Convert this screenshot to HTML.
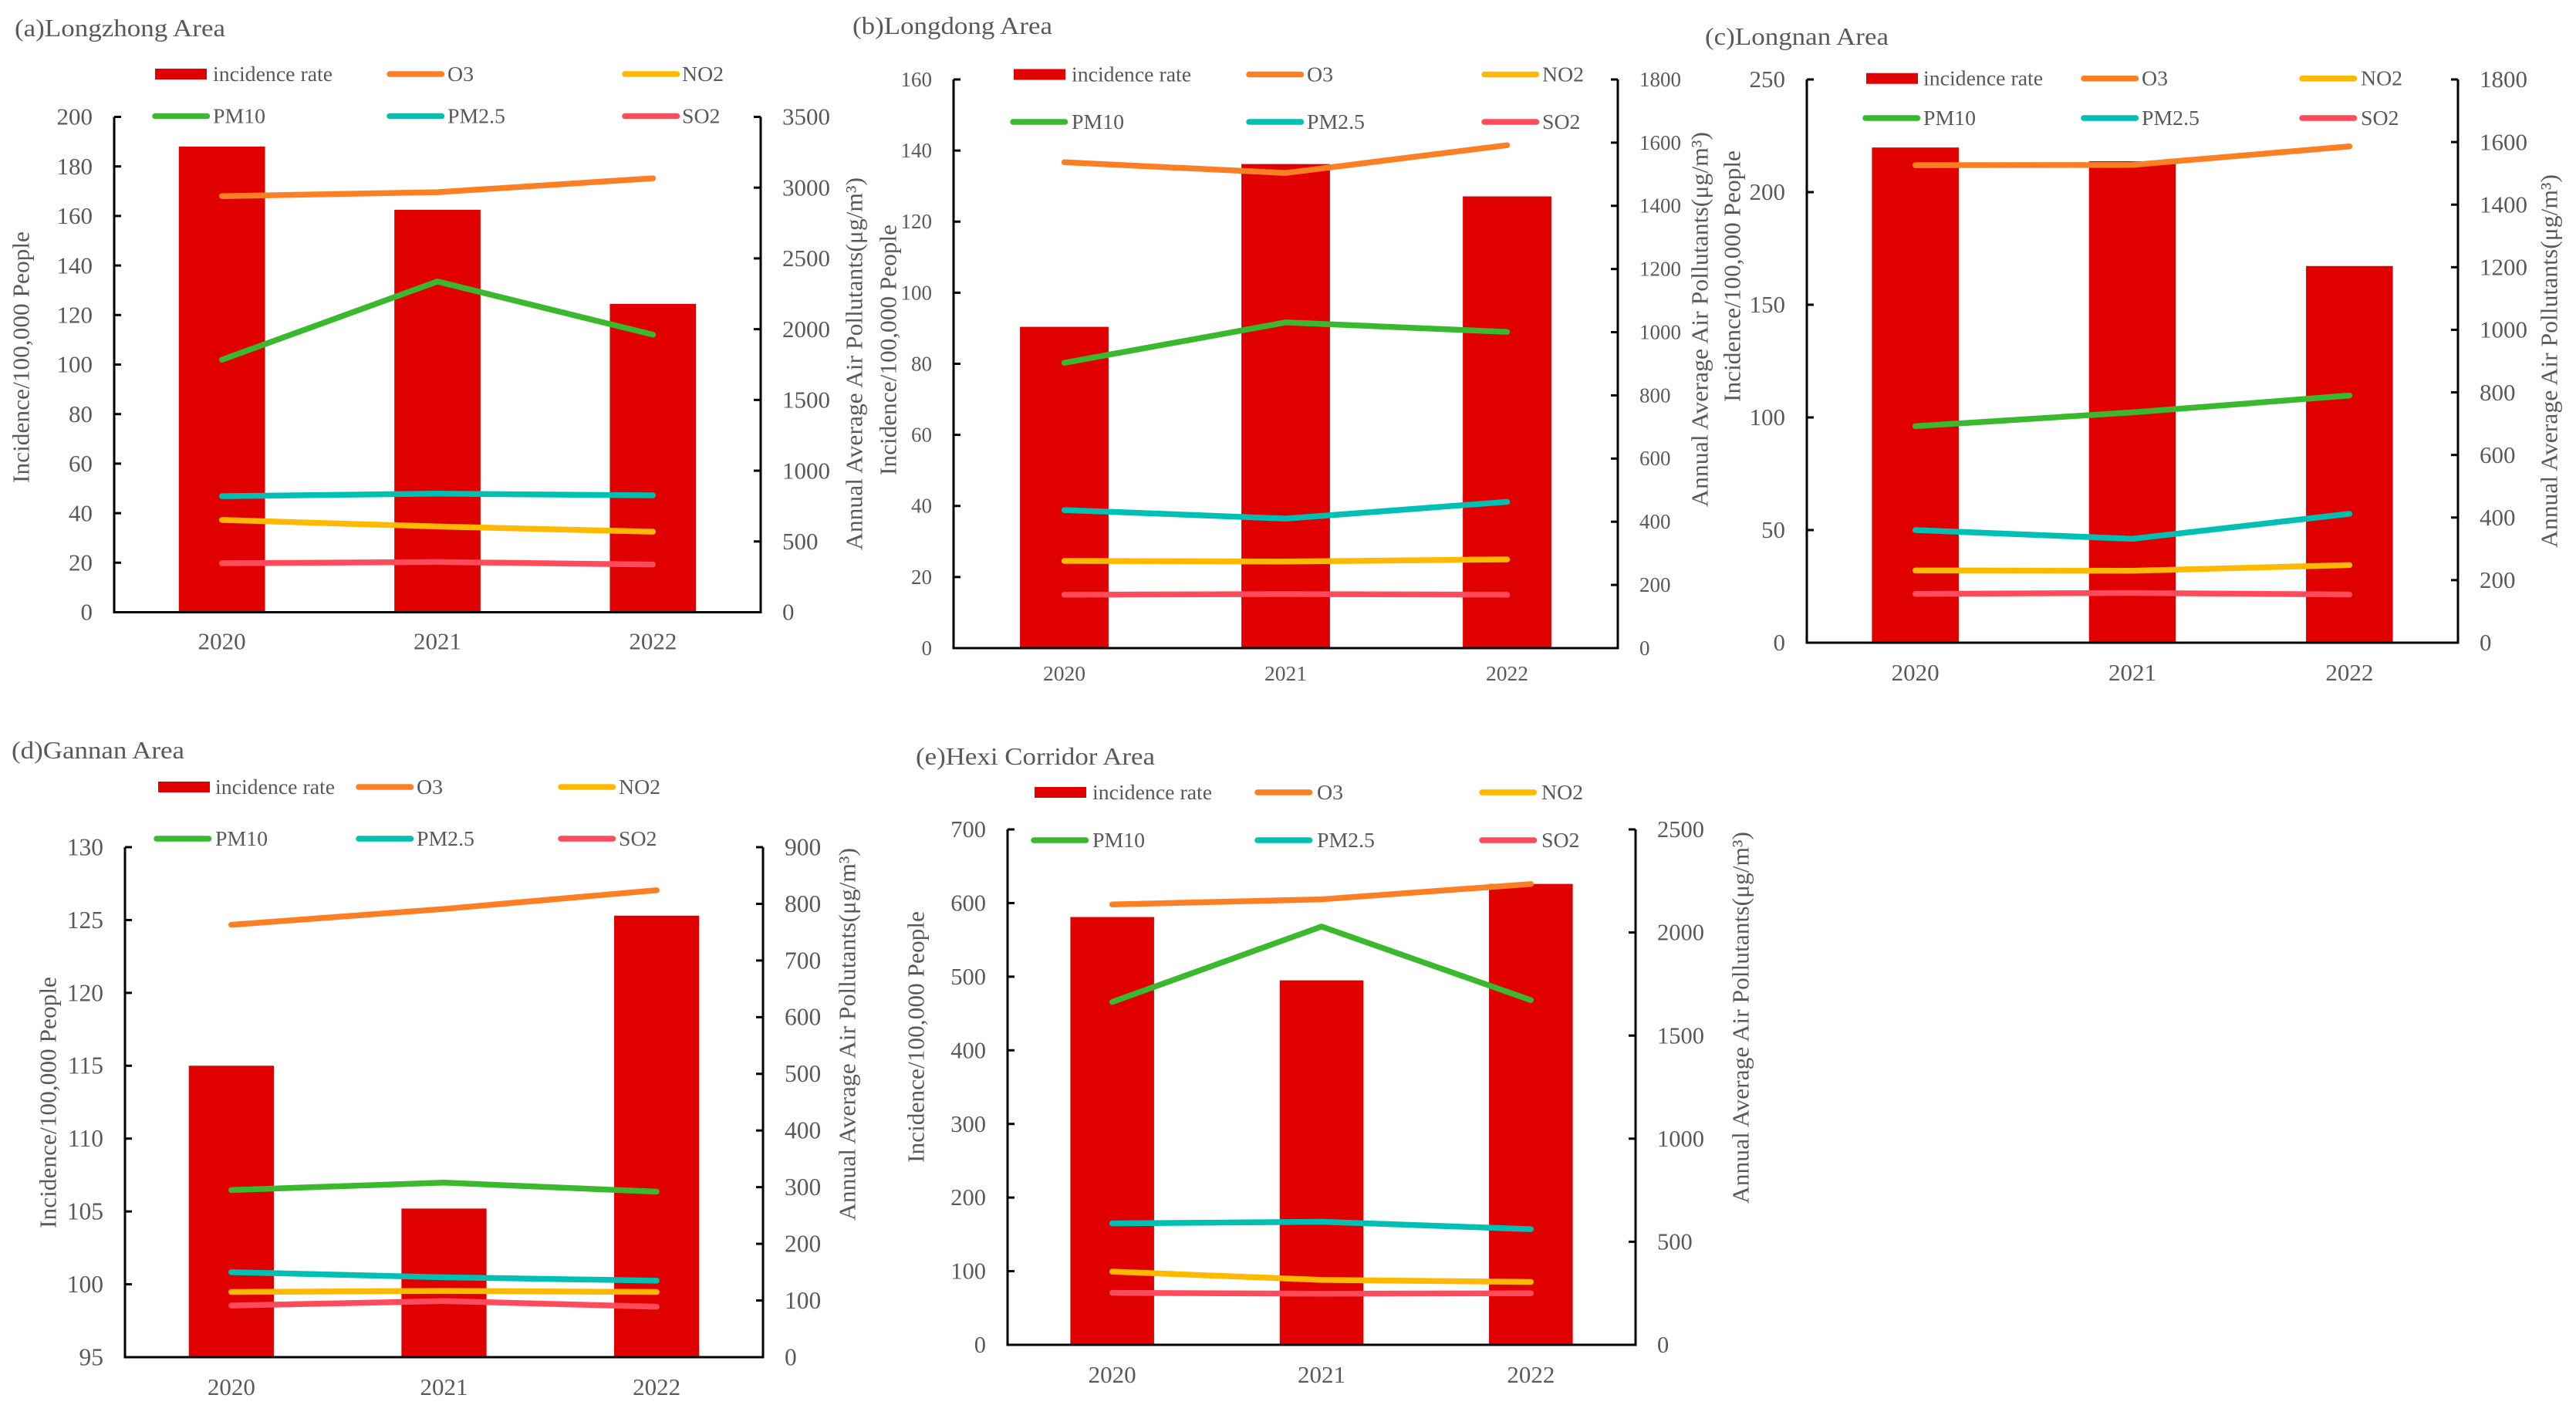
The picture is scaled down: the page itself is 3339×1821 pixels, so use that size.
<!DOCTYPE html>
<html lang="en">
<head>
<meta charset="utf-8">
<title>Incidence and Annual Average Air Pollutants by Area</title>
<style>
html,body{margin:0;padding:0;background:#fff;}
svg{display:block;font-family:"Liberation Serif","DejaVu Serif",serif;}
text{fill:#595959;}
</style>
</head>
<body>
<svg id="figure" xmlns="http://www.w3.org/2000/svg" width="3339" height="1821" viewBox="0 0 3339 1821"></svg>
<script>
const categories = ['2020', '2021', '2022'];

const incidenceA = [188, 162.5, 124.5];
const o3A = [2940, 2968, 3066];
const pm10A = [1784, 2337, 1961];
const pm25A = [820, 838, 826];
const no2A = [652, 606, 569];
const so2A = [346, 355, 337];
const leftTicksA = [0, 20, 40, 60, 80, 100, 120, 140, 160, 180, 200];
const rightTicksA = [0, 500, 1000, 1500, 2000, 2500, 3000, 3500];

const incidenceB = [90.4, 136.2, 127.1];
const o3B = [1538, 1504, 1592];
const pm10B = [903, 1031, 1001];
const pm25B = [437, 410, 463];
const no2B = [276, 274, 281];
const so2B = [169, 171, 169];
const leftTicksB = [0, 20, 40, 60, 80, 100, 120, 140, 160];
const rightTicksB = [0, 200, 400, 600, 800, 1000, 1200, 1400, 1600, 1800];

const incidenceC = [219.8, 213.7, 167.2];
const o3C = [1526, 1527, 1586];
const pm10C = [692, 736, 790];
const pm25C = [360, 332, 412];
const no2C = [231, 230, 248];
const so2C = [156, 159, 154];
const leftTicksC = [0, 50, 100, 150, 200, 250];
const rightTicksC = [0, 200, 400, 600, 800, 1000, 1200, 1400, 1600, 1800];

const incidenceD = [115.0, 105.2, 125.3];
const o3D = [763, 791, 824];
const pm10D = [295, 308, 292];
const pm25D = [150, 141, 135];
const no2D = [115, 117, 115];
const so2D = [91, 99, 89];
const leftTicksD = [95, 100, 105, 110, 115, 120, 125, 130];
const rightTicksD = [0, 100, 200, 300, 400, 500, 600, 700, 800, 900];

const incidenceE = [581, 495, 626];
const o3E = [2136, 2161, 2235];
const pm10E = [1663, 2029, 1672];
const pm25E = [589, 597, 561];
const no2E = [355, 315, 305];
const so2E = [252, 248, 250];
const leftTicksE = [0, 100, 200, 300, 400, 500, 600, 700];
const rightTicksE = [0, 500, 1000, 1500, 2000, 2500];

const leftTitle = 'Incidence/100,000 People';
const rightTitle = 'Annual Average Air Pollutants(μg/m³)';
const barColor = '#E00000';
const seriesStyle = [
  {key: 'o3', label: 'O3', color: '#FD7F23', col: 1, row: 0},
  {key: 'no2', label: 'NO2', color: '#FFB900', col: 2, row: 0},
  {key: 'pm10', label: 'PM10', color: '#3AB82E', col: 0, row: 1},
  {key: 'pm25', label: 'PM2.5', color: '#00BFB3', col: 1, row: 1},
  {key: 'so2', label: 'SO2', color: '#FF4B5C', col: 2, row: 1}
];

const panels = [
  {id: 'a', title: '(a)Longzhong Area', titleX: 19, titleY: 47, titleLen: 273,
   incidence: incidenceA, o3: o3A, pm10: pm10A, pm25: pm25A, no2: no2A, so2: so2A,
   leftTicks: leftTicksA, rightTicks: rightTicksA,
   box: {l: 148, r: 986, t: 151.5, b: 793.5}, font: 31, catFont: 31, catDy: 48,
   leftTitleBox: {x: 27, y: 463, len: 326}, rightTitleBox: {x: 1107, y: 471.5, len: 483},
   legend: {swatchX: 201, lineX: [200, 504, 809], textX: [276, 580, 884], rows: [96, 150.5]}},
  {id: 'b', title: '(b)Longdong Area', titleX: 1105, titleY: 44, titleLen: 259,
   incidence: incidenceB, o3: o3B, pm10: pm10B, pm25: pm25B, no2: no2B, so2: so2B,
   leftTicks: leftTicksB, rightTicks: rightTicksB,
   box: {l: 1236, r: 2097, t: 103, b: 840}, font: 27, catFont: 27.5, catDy: 42,
   leftTitleBox: {x: 1151, y: 453.5, len: 325}, rightTitleBox: {x: 2203, y: 414, len: 486},
   legend: {swatchX: 1314, lineX: [1312, 1618, 1923], textX: [1389, 1694, 1999], rows: [96.5, 158]}},
  {id: 'c', title: '(c)Longnan Area', titleX: 2210, titleY: 58, titleLen: 238,
   incidence: incidenceC, o3: o3C, pm10: pm10C, pm25: pm25C, no2: no2C, so2: so2C,
   leftTicks: leftTicksC, rightTicks: rightTicksC,
   box: {l: 2342, r: 3186, t: 103, b: 833}, font: 31, catFont: 31, catDy: 49,
   leftTitleBox: {x: 2245, y: 358, len: 326}, rightTitleBox: {x: 3304, y: 468, len: 484},
   legend: {swatchX: 2419, lineX: [2417, 2700, 2983], textX: [2493, 2776, 3060], rows: [101.7, 153]}},
  {id: 'd', title: '(d)Gannan Area', titleX: 15, titleY: 983, titleLen: 224,
   incidence: incidenceD, o3: o3D, pm10: pm10D, pm25: pm25D, no2: no2D, so2: so2D,
   leftTicks: leftTicksD, rightTicks: rightTicksD,
   box: {l: 162, r: 989, t: 1098, b: 1759}, font: 31.5, catFont: 31, catDy: 49,
   leftTitleBox: {x: 62, y: 1429, len: 326}, rightTitleBox: {x: 1098, y: 1340.5, len: 483},
   legend: {swatchX: 205, lineX: [202, 464, 726], textX: [279, 540, 802], rows: [1020, 1087]}},
  {id: 'e', title: '(e)Hexi Corridor Area', titleX: 1187, titleY: 991, titleLen: 310,
   incidence: incidenceE, o3: o3E, pm10: pm10E, pm25: pm25E, no2: no2E, so2: so2E,
   leftTicks: leftTicksE, rightTicks: rightTicksE,
   box: {l: 1306, r: 2120, t: 1075, b: 1743}, font: 30.5, catFont: 31, catDy: 49,
   leftTitleBox: {x: 1187, y: 1344, len: 326}, rightTitleBox: {x: 2256, y: 1319, len: 482},
   legend: {swatchX: 1341, lineX: [1339, 1629, 1920], textX: [1416, 1707, 1998], rows: [1027, 1089]}}
];

const NS = 'http://www.w3.org/2000/svg';
const figure = document.getElementById('figure');

function make(parent, tag, attrs, content) {
  const node = document.createElementNS(NS, tag);
  for (const k in attrs) node.setAttribute(k, attrs[k]);
  if (content !== undefined) node.textContent = content;
  parent.appendChild(node);
  return node;
}

function linearScale(domainMin, domainMax, rangeMin, rangeMax) {
  return function (v) {
    return rangeMin + (v - domainMin) / (domainMax - domainMin) * (rangeMax - rangeMin);
  };
}

function drawPanel(p) {
  const g = make(figure, 'g', {});
  
  

  const b = p.box;
  const yLeft = linearScale(p.leftTicks[0], p.leftTicks[p.leftTicks.length - 1], b.b, b.t);
  const yRight = linearScale(p.rightTicks[0], p.rightTicks[p.rightTicks.length - 1], b.b, b.t);
  const band = (b.r - b.l) / categories.length;
  const xCenter = function (i) { return b.l + band * (i + 0.5); };
  const barWidth = band * 0.4;

  const title = make(g, 'text', {x: p.titleX, y: p.titleY, 'font-size': 32, textLength: p.titleLen, lengthAdjust: 'spacingAndGlyphs'}, p.title);
  
  

  p.incidence.forEach(function (v, i) {
    const top = yLeft(v);
    const bar = make(g, 'rect', {x: xCenter(i) - barWidth / 2, y: top, width: barWidth, height: b.b - top, fill: barColor});
    
    
  });

  seriesStyle.forEach(function (s) {
    const pts = p[s.key].map(function (v, i) { return xCenter(i) + ',' + yRight(v); }).join(' ');
    const line = make(g, 'polyline', {points: pts, fill: 'none', stroke: s.color, 'stroke-width': 7.5, 'stroke-linecap': 'round', 'stroke-linejoin': 'round'});
    
    
  });

  const axisAttrs = {stroke: '#000', 'stroke-width': 3, fill: 'none'};
  const axisPath = make(g, 'path', Object.assign({d: 'M' + b.l + ' ' + b.t + 'V' + b.b + 'H' + b.r + 'V' + b.t}, axisAttrs));
  
  

  p.leftTicks.forEach(function (t) {
    const y = yLeft(t);
    const tick = make(g, 'line', {x1: b.l, x2: b.l + 9, y1: y, y2: y, stroke: '#000', 'stroke-width': 3});
    
    
    const lab = make(g, 'text', {x: b.l - 28, y: y + p.font * 0.33, 'font-size': p.font, 'text-anchor': 'end'}, String(t));
    
    
  });

  p.rightTicks.forEach(function (t) {
    const y = yRight(t);
    const tick = make(g, 'line', {x1: b.r - 9, x2: b.r, y1: y, y2: y, stroke: '#000', 'stroke-width': 3});
    
    
    const lab = make(g, 'text', {x: b.r + 28, y: y + p.font * 0.33, 'font-size': p.font}, String(t));
    
    
  });

  categories.forEach(function (c, i) {
    const lab = make(g, 'text', {x: xCenter(i), y: b.b + p.catDy, 'font-size': p.catFont, 'text-anchor': 'middle'}, c);
    
    
  });

  const lt = p.leftTitleBox;
  const ltNode = make(g, 'text', {x: lt.x, y: lt.y, 'font-size': 31, 'text-anchor': 'middle', 'dominant-baseline': 'central', textLength: lt.len, lengthAdjust: 'spacingAndGlyphs', transform: 'rotate(-90 ' + lt.x + ' ' + lt.y + ')'}, leftTitle);
  
  

  const rt = p.rightTitleBox;
  const rtNode = make(g, 'text', {x: rt.x, y: rt.y, 'font-size': 31, 'text-anchor': 'middle', 'dominant-baseline': 'central', textLength: rt.len, lengthAdjust: 'spacingAndGlyphs', transform: 'rotate(-90 ' + rt.x + ' ' + rt.y + ')'}, rightTitle);
  
  

  const L = p.legend;
  const swatch = make(g, 'rect', {x: L.swatchX, y: L.rows[0] - 7, width: 67, height: 14, fill: barColor});
  
  
  const swatchLabel = make(g, 'text', {x: L.textX[0], y: L.rows[0] + 9, 'font-size': 27.8}, 'incidence rate');
  
  

  seriesStyle.forEach(function (s) {
    const y = L.rows[s.row];
    const x0 = L.lineX[s.col];
    const key = make(g, 'line', {x1: x0 + 1, x2: x0 + 68.5, y1: y, y2: y, stroke: s.color, 'stroke-width': 7.5, 'stroke-linecap': 'round'});
    
    
    const lab = make(g, 'text', {x: L.textX[s.col], y: y + 9, 'font-size': 27.8}, s.label);
    
    
  });
}

panels.forEach(drawPanel);
</script>
</body>
</html>
